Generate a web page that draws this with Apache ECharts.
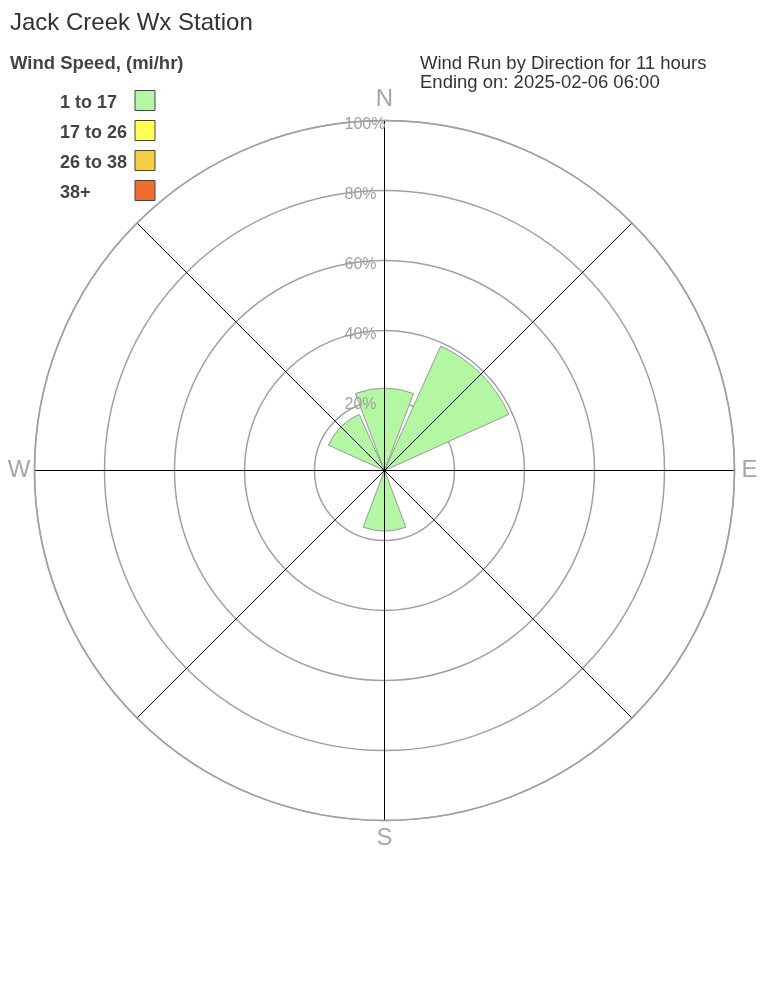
<!DOCTYPE html>
<html>
<head>
<meta charset="utf-8">
<script src="https://cdn.jsdelivr.net/npm/echarts@6/dist/echarts.min.js"></script>
<style>
html,body{margin:0;padding:0;background:#fff;}
#chart{width:768px;height:1008px;}
</style>
</head>
<body>
<div id="chart"></div>
<script>
// Directions (8-point rose)
const directions = ['N', 'NE', 'E', 'SE', 'S', 'SW', 'W', 'NW'];
// Speed bins (legend)
const speedBins = ['1 to 17', '17 to 26', '26 to 38', '38+'];
const binColors = ['#b3f7a3', '#ffff55', '#f7cd45', '#ec6e30'];
// Percent of wind run per direction, per speed bin
const bin1to17 = [23.5, 39, 0, 0, 17.3, 0, 0, 17.6];
const bin17to26 = [0, 0, 0, 0, 0, 0, 0, 0];
const bin26to38 = [0, 0, 0, 0, 0, 0, 0, 0];
const bin38plus = [0, 0, 0, 0, 0, 0, 0, 0];
// Ring tick labels (percent)
const ringTicks = [0, 20, 40, 60, 80, 100];
// Compass labels every 45 degrees
const compassLabels = ['N', '', 'E', '', 'S', '', 'W', '', ''];

const binData = [bin1to17, bin17to26, bin26to38, bin38plus];
const FONT = "'Liberation Sans', Arial, sans-serif";

const chart = echarts.init(document.getElementById('chart'), null, {renderer: 'canvas'});

const series = speedBins.map((name, i) => ({
  name: name,
  type: 'bar',
  coordinateSystem: 'polar',
  polarIndex: 0,
  stack: 'wind',
  barCategoryGap: '8%',
  data: binData[i].map(v => (v > 0 ? v : null)),
  itemStyle: {color: binColors[i], borderColor: '#999', borderWidth: 1},
  emphasis: {disabled: true},
  z: 2
}));

const CX = 384.5, CY = 470.5;

const option = {
  animation: false,
  backgroundColor: '#fff',
  textStyle: {fontFamily: FONT},
  title: [
    {text: 'Jack Creek Wx Station', left: 10, top: 11, padding: 0,
     textStyle: {fontSize: 24, fontWeight: 'normal', color: '#333', fontFamily: FONT}},
    {text: 'Wind Speed, (mi/hr)', left: 10, top: 54, padding: 0,
     textStyle: {fontSize: 18.5, fontWeight: 'bold', color: '#444', fontFamily: FONT}},
    {text: 'Wind Run by Direction for 11 hours\nEnding on: 2025-02-06 06:00', left: 420, top: 54, padding: 0,
     textStyle: {fontSize: 18.5, fontWeight: 'normal', color: '#333', lineHeight: 19, fontFamily: FONT}}
  ],
  legend: {
    orient: 'vertical',
    left: 60,
    top: 90,
    padding: 0,
    itemWidth: 20,
    itemHeight: 20,
    itemGap: 8,
    align: 'right',
    icon: 'rect',
    selectedMode: false,
    data: speedBins,
    itemStyle: {borderColor: '#444', borderWidth: 1},
    formatter: name => '{a|' + name + '}',
    textStyle: {
      rich: {a: {width: 70, align: 'left', fontSize: 18, fontWeight: 'bold', color: '#444', fontFamily: FONT, padding: [5, 0, 0, 0]}}
    }
  },
  polar: [
    {center: [CX, CY], radius: 350},
    {center: [CX, CY], radius: 350}
  ],
  angleAxis: [
    {
      polarIndex: 0, type: 'category', data: directions, startAngle: 112.5, clockwise: true,
      boundaryGap: true,
      axisLine: {show: false}, axisTick: {show: false}, axisLabel: {show: false}, splitLine: {show: false}
    },
    {
      polarIndex: 1, type: 'value', min: 0, max: 360, interval: 45, startAngle: 90, clockwise: true,
      z: 10,
      axisLine: {show: true, lineStyle: {color: '#a0a0a0', width: 1.5}},
      axisTick: {show: false},
      splitLine: {show: true, lineStyle: {color: '#000', width: 1}},
      axisLabel: {
        show: true, margin: 3,
        formatter: v => { const s = compassLabels[Math.round(v / 45)]; return s ? '{' + s.toLowerCase() + '|' + s + '}' : ''; },
        rich: {
          n: {fontSize: 24, color: '#a6a6a6', fontFamily: FONT, padding: [0, 0, 6, 0]},
          e: {fontSize: 24, color: '#a6a6a6', fontFamily: FONT, padding: [0, 0, 0, 4]},
          s: {fontSize: 24, color: '#a6a6a6', fontFamily: FONT, padding: [3, 0, 0, 0]},
          w: {fontSize: 24, color: '#a6a6a6', fontFamily: FONT, padding: [0, 1, 0, 0]}
        }
      }
    }
  ],
  radiusAxis: [
    {
      polarIndex: 0, type: 'value', min: 0, max: 100, interval: 20,
      axisLine: {show: false}, axisTick: {show: false}, axisLabel: {show: false},
      splitLine: {show: true, lineStyle: {color: '#a0a0a0', width: 1.5}}
    },
    {
      polarIndex: 1, type: 'value', min: 0, max: 100, interval: 20, z: 10,
      axisLine: {show: false}, axisTick: {show: false}, splitLine: {show: false},
      axisLabel: {
        show: true, margin: 40, align: 'left', verticalAlign: 'middle',
        formatter: v => (ringTicks.indexOf(v) > 0 ? '{p|' + v + '%}' : ''),
        rich: {p: {color: '#a0a0a0', fontSize: 16, fontFamily: FONT, padding: [9, 0, 0, 0]}}
      }
    }
  ],
  series: series
};
chart.setOption(option);
</script>
</body>
</html>
